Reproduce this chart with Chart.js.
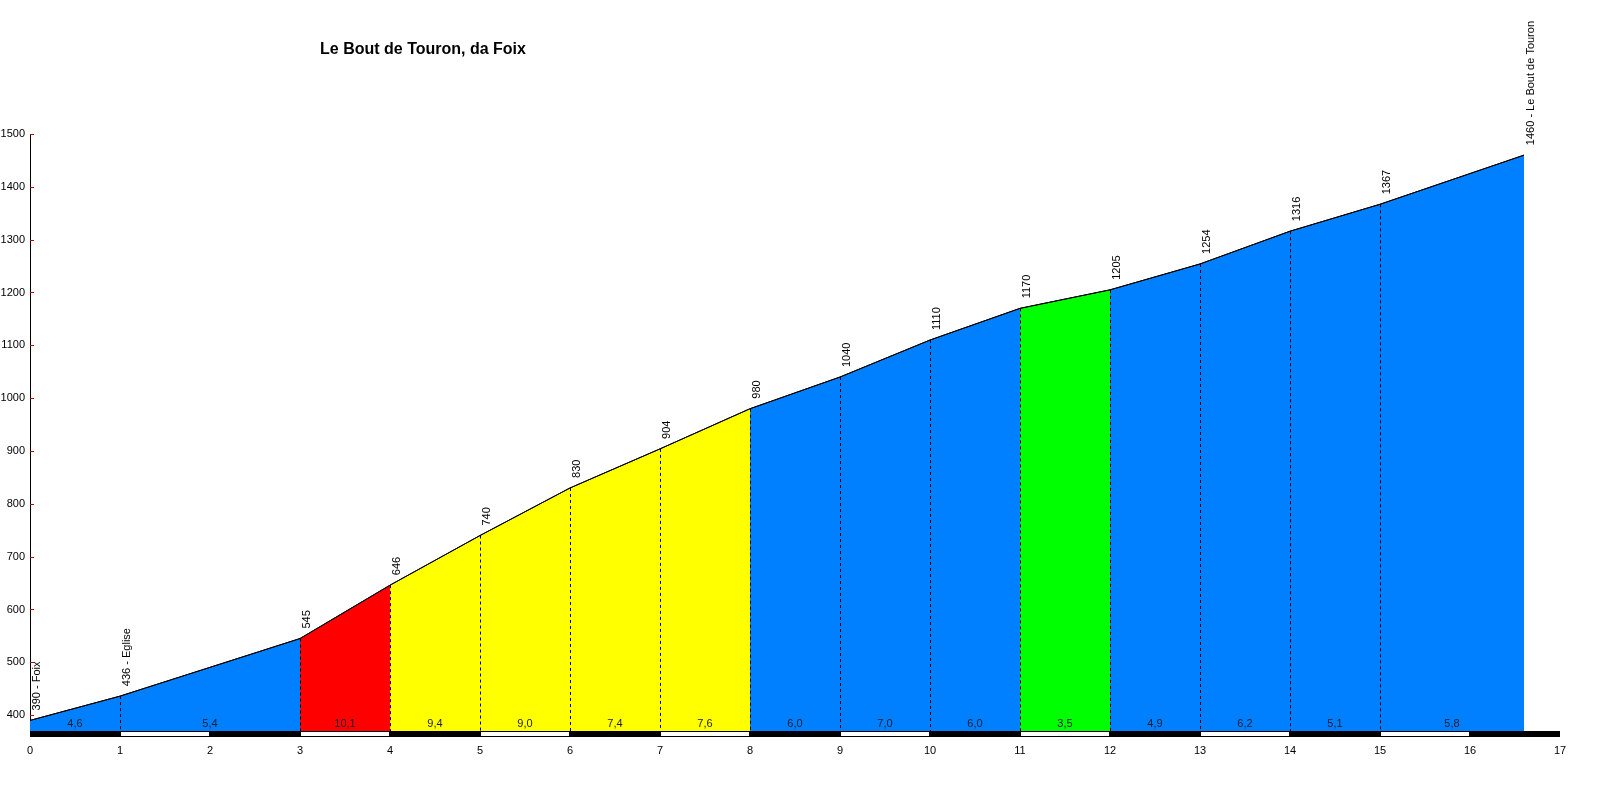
<!DOCTYPE html>
<html>
<head>
<meta charset="utf-8">
<script src="https://cdn.jsdelivr.net/npm/chart.js@4"></script>
<style>
html,body{margin:0;padding:0;background:#fff;}
#c{display:block;}
</style>
</head>
<body>
<canvas id="c" width="1600" height="800"></canvas>
<script>
// ---- data ----
const chartTitle = 'Le Bout de Touron, da Foix';
const km = [0, 1, 3, 4, 5, 6, 7, 8, 9, 10, 11, 12, 13, 14, 15, 16.6];
const elevation = [390, 436, 545, 646, 740, 830, 904, 980, 1040, 1110, 1170, 1205, 1254, 1316, 1367, 1460];
const placeNames = ['Foix', 'Eglise', '', '', '', '', '', '', '', '', '', '', '', '', '', 'Le Bout de Touron'];
const gradients = ['4,6', '5,4', '10,1', '9,4', '9,0', '7,4', '7,6', '6,0', '7,0', '6,0', '3,5', '4,9', '6,2', '5,1', '5,8'];
const segmentColors = ['#0080FF', '#0080FF', '#FF0000', '#FFFF00', '#FFFF00', '#FFFF00', '#FFFF00',
  '#0080FF', '#0080FF', '#0080FF', '#00FF00', '#0080FF', '#0080FF', '#0080FF', '#0080FF'];
const yTicks = [400, 500, 600, 700, 800, 900, 1000, 1100, 1200, 1300, 1400, 1500];
const xTicks = [0, 1, 2, 3, 4, 5, 6, 7, 8, 9, 10, 11, 12, 13, 14, 15, 16, 17];

const FONT = "'Liberation Sans', Arial, sans-serif";

const datasets = gradients.map((g, i) => ({
  data: [{x: km[i], y: elevation[i]}, {x: km[i + 1], y: elevation[i + 1]}],
  backgroundColor: segmentColors[i],
  borderColor: '#000',
  borderWidth: 1,
  fill: 'start',
  pointRadius: 0,
  tension: 0
}));

const profilePlugin = {
  id: 'profile',
  afterDatasetsDraw(chart) {
    const ctx = chart.ctx;
    const xs = chart.scales.x, ys = chart.scales.y;
    const area = chart.chartArea;
    ctx.save();
    // dashed verticals
    ctx.strokeStyle = '#000';
    ctx.lineWidth = 1;
    ctx.setLineDash([3, 3]);
    for (let i = 1; i < km.length - 1; i++) {
      const px = Math.round(xs.getPixelForValue(km[i])) + 0.5;
      ctx.beginPath();
      ctx.moveTo(px, ys.getPixelForValue(elevation[i]));
      ctx.lineTo(px, area.bottom);
      ctx.stroke();
    }
    ctx.setLineDash([]);
    // profile line again on top
    ctx.beginPath();
    km.forEach((k, i) => {
      const px = xs.getPixelForValue(k), py = ys.getPixelForValue(elevation[i]);
      if (i === 0) ctx.moveTo(px, py); else ctx.lineTo(px, py);
    });
    ctx.stroke();
    // bottom km bar
    const barTop = Math.round(area.bottom), barH = 5;
    for (let k = xTicks[0]; k < xTicks[xTicks.length - 1]; k++) {
      const x0 = Math.round(xs.getPixelForValue(k)), x1 = Math.round(xs.getPixelForValue(k + 1));
      if (k % 2 === 0) {
        ctx.fillStyle = '#000';
        ctx.fillRect(x0, barTop, x1 - x0, barH + 1);
      } else {
        ctx.fillStyle = '#fff';
        ctx.fillRect(x0, barTop, x1 - x0, barH + 1);
        ctx.strokeStyle = '#000';
        ctx.strokeRect(x0 + 0.5, barTop + 0.5, x1 - x0 - 1, barH);
      }
    }
    // gradient labels
    ctx.fillStyle = '#1a1a2a';
    ctx.font = '11px ' + FONT;
    ctx.textAlign = 'center';
    ctx.textBaseline = 'middle';
    gradients.forEach((g, i) => {
      const px = xs.getPixelForValue((km[i] + km[i + 1]) / 2);
      ctx.fillText(g, px, area.bottom - 7);
    });
    // elevation labels (rotated)
    ctx.fillStyle = '#000';
    ctx.textAlign = 'left';
    elevation.forEach((e, i) => {
      const px = xs.getPixelForValue(km[i]), py = ys.getPixelForValue(e);
      const txt = placeNames[i] ? e + ' - ' + placeNames[i] : String(e);
      ctx.save();
      ctx.translate(px + 6.5, py - 10);
      ctx.rotate(-Math.PI / 2);
      ctx.fillText(txt, 0, 0);
      ctx.restore();
    });
    // y tick marks (red, inside)
    ctx.strokeStyle = '#c00000';
    yTicks.forEach(v => {
      const py = Math.round(ys.getPixelForValue(v)) + 0.5;
      ctx.beginPath();
      ctx.moveTo(area.left, py);
      ctx.lineTo(area.left + 4, py);
      ctx.stroke();
    });
    // title
    ctx.fillStyle = '#000';
    ctx.font = 'bold 16px ' + FONT;
    ctx.textAlign = 'center';
    ctx.textBaseline = 'middle';
    ctx.fillText(chartTitle, 423, 50);
    ctx.restore();
  }
};

new Chart(document.getElementById('c'), {
  type: 'line',
  data: { datasets },
  options: {
    responsive: false,
    animation: false,
    devicePixelRatio: 1,
    layout: { padding: { top: 134, right: 40, left: 0, bottom: 0 } },
    plugins: { legend: { display: false }, tooltip: { enabled: false }, title: { display: false } },
    scales: {
      x: {
        type: 'linear', min: 0, max: 17,
        grid: { display: false, drawTicks: false },
        border: { display: false },
        afterFit(s) { s.height = 69; },
        afterBuildTicks(s) { s.ticks = xTicks.map(v => ({ value: v })); },
        ticks: { color: '#000', font: { family: FONT, size: 11 }, padding: 13, autoSkip: false, maxRotation: 0,
                 callback: v => String(v) }
      },
      y: {
        type: 'linear', min: 370, max: 1500,
        grid: { display: false, drawTicks: false },
        border: { display: true, color: '#000', width: 1 },
        afterFit(s) { s.width = 30; },
        afterBuildTicks(s) { s.ticks = yTicks.map(v => ({ value: v })); },
        ticks: { color: '#000', font: { family: FONT, size: 11 }, padding: 5, callback: v => String(v) }
      }
    }
  },
  plugins: [profilePlugin]
});
</script>
</body>
</html>
